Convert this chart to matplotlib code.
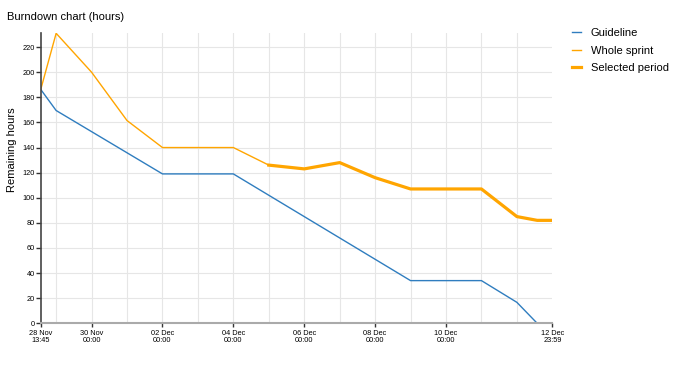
import pandas as pd
import matplotlib
matplotlib.use('Agg')
import matplotlib.pyplot as plt
import matplotlib.dates as mdates

plt.rcParams['font.family'] = ['Liberation Sans', 'DejaVu Sans']

# guideline (ideal burndown), vertices only
guide_times = ['2022-11-28 13:45', '2022-11-29 00:00', '2022-12-02 00:00',
               '2022-12-04 00:00', '2022-12-09 00:00', '2022-12-11 00:00',
               '2022-12-12 00:00', '2022-12-12 13:45']
guide_hours = [186, 169.5, 119, 119, 34, 34, 16.7, 0]

# remaining hours over the whole sprint
sprint_times = ['2022-11-28 13:45', '2022-11-29 00:00', '2022-11-30 00:00',
                '2022-12-01 00:00', '2022-12-02 00:00', '2022-12-04 00:00',
                '2022-12-05 00:00', '2022-12-06 00:00', '2022-12-07 00:00',
                '2022-12-08 00:00', '2022-12-09 00:00', '2022-12-11 00:00',
                '2022-12-12 00:00', '2022-12-12 13:45', '2022-12-12 23:59']
sprint_hours = [187, 231, 200, 161.5, 140, 140, 126, 123, 128, 116, 107, 107,
                85, 82, 82]

selected_start = '2022-12-05 00:00'

x_start = '2022-11-28 13:45'
x_end = '2022-12-12 23:59'
x_ticks = ['2022-11-28 13:45', '2022-11-30 00:00', '2022-12-02 00:00',
           '2022-12-04 00:00', '2022-12-06 00:00', '2022-12-08 00:00',
           '2022-12-10 00:00', '2022-12-12 23:59']
y_ticks = list(range(0, 221, 20))

gt = pd.to_datetime(guide_times)
st = pd.to_datetime(sprint_times)
sel = st >= pd.Timestamp(selected_start)
sel_t = st[sel]
sel_h = [h for h, s in zip(sprint_hours, sel) if s]

fig = plt.figure(figsize=(6.9, 3.65), dpi=100)
ax = fig.add_axes([41 / 690, 1 - 323.3 / 365, (552.3 - 41) / 690, 290 / 365])

blue = '#2f7dbf'
orange = '#ffa500'
ax.plot(gt, guide_hours, color=blue, lw=1.0, label='Guideline')
ax.plot(st, sprint_hours, color=orange, lw=1.0, label='Whole sprint')
ax.plot(sel_t, sel_h, color=orange, lw=2.3, label='Selected period',
        solid_joinstyle='round')

ax.set_xlim(pd.Timestamp(x_start), pd.Timestamp(x_end))
ax.set_ylim(0, 231)

ax.set_xticks(pd.to_datetime(x_ticks))
ax.xaxis.set_major_formatter(mdates.DateFormatter('%d %b\n%H:%M'))
ax.xaxis.set_minor_locator(mdates.DayLocator())
ax.xaxis.remove_overlapping_locs = False
ax.set_yticks(y_ticks)

for lab in ax.get_xticklabels():
    lab.set_linespacing(1.0)
ax.tick_params(axis='x', which='major', labelsize=5.3, length=3, width=1,
               color='#333', pad=1.5)
ax.tick_params(axis='x', which='minor', length=0)
ax.tick_params(axis='y', labelsize=5.3, length=3.5, width=1, color='#333',
               pad=1)

ax.grid(axis='x', which='minor', color='#e6e6e6', lw=0.8)
ax.grid(axis='y', which='major', color='#e6e6e6', lw=0.8)
ax.set_axisbelow(True)

for side in ['top', 'right']:
    ax.spines[side].set_visible(False)
ax.spines['left'].set_color('#444')
ax.spines['left'].set_linewidth(1.2)
ax.spines['bottom'].set_color('#aaaaaa')
ax.spines['bottom'].set_linewidth(1.5)

fig.text(7 / 690, 1 - 17 / 365, 'Burndown chart (hours)', fontsize=8,
         va='center', ha='left')
fig.text(12 / 690, 1 - 150 / 365, 'Remaining hours', fontsize=8,
         rotation=90, va='center', ha='center')

ax.legend(loc='upper left', bbox_to_anchor=(572 / 690, 1 - 28 / 365),
          bbox_transform=fig.transFigure, frameon=False, fontsize=8,
          handlelength=0.8, handletextpad=0.9, labelspacing=0.68,
          borderaxespad=0, borderpad=0)

fig.savefig('out.png', dpi=100)
